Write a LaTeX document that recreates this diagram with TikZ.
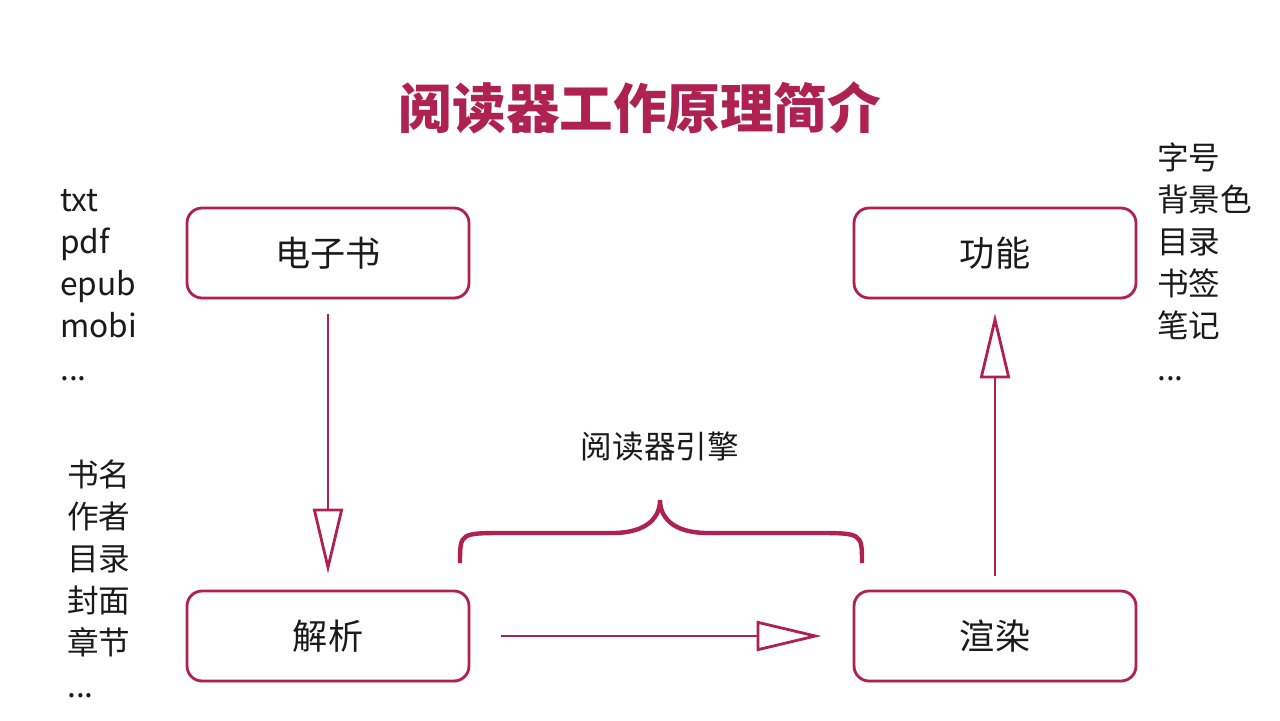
\documentclass[tikz,border=0pt]{standalone}
\usepackage{fontspec}
\setmainfont{Noto Sans CJK SC}
\usepackage{xcolor}
\usepackage{tikz}
\usetikzlibrary{arrows.meta, positioning, shadows}
\definecolor{rcrimson}{HTML}{AE2150}
\definecolor{rtext}{HTML}{1A1A1A}

\tikzset{
  stagebox/.style={draw=rcrimson, line width=1.6pt, rounded corners=0.3cm, fill=white,
    minimum width=5.64cm, minimum height=1.8cm, font=\fontsize{20}{24}\selectfont, text=rtext,
    drop shadow={shadow xshift=0.5pt, shadow yshift=-1pt, opacity=0.18}},
  flowarrow/.style={draw=rcrimson, line width=1.6pt,
    -{Triangle[open, length=1.3cm, width=0.6cm, line width=1.6pt]}},
  sidelist/.style={anchor=base west, align=left, inner sep=0pt, text=rtext,
    font=\fontsize{18}{24}\selectfont}
}

\begin{document}
\begin{tikzpicture}[x=0.02cm, y=-0.02cm]
\useasboundingbox (0,0) rectangle (1280,720);
\fill[white] (0,0) rectangle (1280,720);
\node[font=\fontsize{30.5}{34}\selectfont\bfseries, text=rcrimson] (title) at (640,108) {阅读器工作原理简介};
% the four stages
\node[stagebox] (ebook) at (328,253) {电子书};
\node[stagebox] (func) at (995,253) {功能};
\node[stagebox] (parse) at (328,636) {解析};
\node[stagebox] (render) at (995,636) {渲染};
% side lists (placed at the baseline of their last line)
\node[sidelist] (formats) at (60,380) {txt\\pdf\\epub\\mobi\\...};
\node[sidelist] (meta) at (67,697) {书名\\作者\\目录\\封面\\章节\\...};
\node[sidelist] (features) at (1157,380) {字号\\背景色\\目录\\书签\\笔记\\...};
% flow
\draw[flowarrow, shorten <=0.3cm, shorten >=0.32cm] (ebook) -- (parse);
\draw[flowarrow, shorten <=0.62cm, shorten >=0.62cm] (parse) -- (render);
\draw[flowarrow, shorten <=0.28cm, shorten >=0.28cm] (render) -- (func);
% engine brace
\coordinate (braceL) at (460,563);
\coordinate (braceR) at (862,563);
\coordinate (braceTip) at (660,500);
\draw[rcrimson, line width=2.5pt]
  (braceL) .. controls (460,533) .. (505,533) -- (612,533)
  .. controls (650,533) and (660,515) .. (braceTip)
  .. controls (660,515) and (670,533) .. (708,533) -- (815,533)
  .. controls (862,533) .. (braceR);
\node[font=\fontsize{18}{22}\selectfont, text=rtext] (engine) at (660,447) {阅读器引擎};
\end{tikzpicture}
\end{document}
